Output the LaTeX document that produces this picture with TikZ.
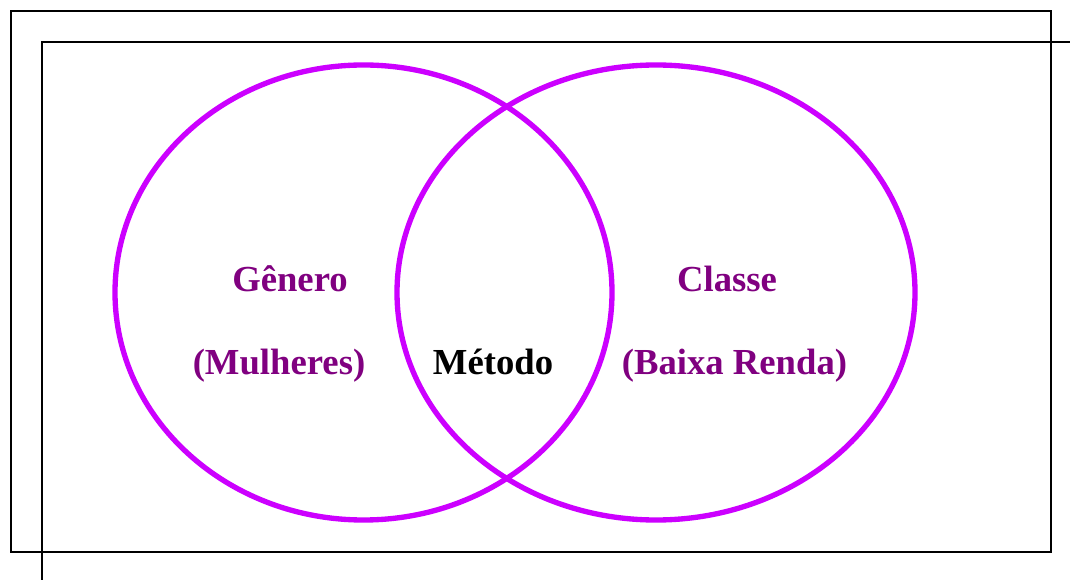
\documentclass[tikz,border=0pt]{standalone}
\usepackage{fontspec}
\setmainfont{Liberation Serif}
\definecolor{ringc}{HTML}{CC00FF}
\definecolor{textc}{HTML}{800080}
\begin{document}
\begin{tikzpicture}[x=0.75pt,y=-0.75pt,
  frame/.style={draw=black,line width=1.8pt},
  ring/.style={draw=ringc,line width=4pt},
  lbl/.style={anchor=base,inner sep=0pt,font=\fontsize{27.5pt}{32pt}\selectfont\bfseries,text=textc}]
\useasboundingbox (0,0) rectangle (1070,580);
\fill[white] (0,0) rectangle (1070,580);
\draw[frame] (11,11) rectangle (1051,552);
\draw[frame] (1070,42) -- (42,42) -- (42,580);
\draw[ring] (363.5,292.5) ellipse [x radius=248.5, y radius=227.5];
\draw[ring] (656,292.5) ellipse [x radius=259, y radius=227.5];
\node[lbl] (genero) at (290,292) {Gênero};
\node[lbl] (mulheres) at (279,375) {(Mulheres)};
\node[lbl,text=black] (metodo) at (493,375) {Método};
\node[lbl] (classe) at (727,292) {Classe};
\node[lbl] (baixa) at (734.5,375) {(Baixa Renda)};
\end{tikzpicture}
\end{document}
